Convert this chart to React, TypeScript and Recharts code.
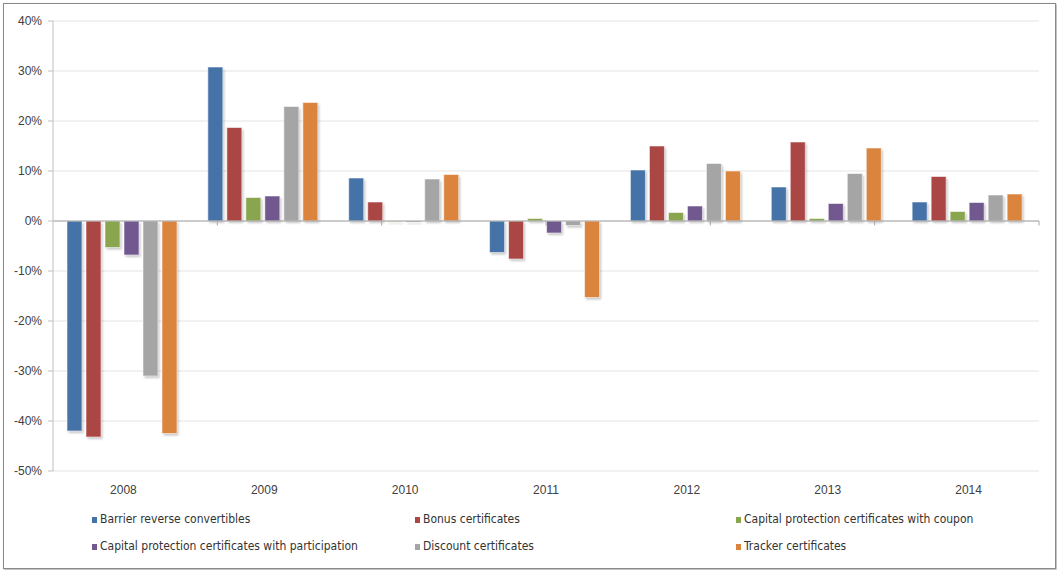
import { BarChart, Bar, XAxis, YAxis, CartesianGrid, ReferenceLine, Legend } from 'recharts'

const years = ['2008', '2009', '2010', '2011', '2012', '2013', '2014']

// annual performance, %
const barrierReverse = [-42, 30.8, 8.6, -6.3, 10.2, 6.8, 3.8]
const bonus = [-43.2, 18.7, 3.8, -7.6, 15, 15.8, 8.9]
const capCoupon = [-5.3, 4.7, -0.1, 0.5, 1.7, 0.5, 1.9]
const capParticipation = [-6.8, 5, -0.2, -2.4, 3, 3.5, 3.7]
const discount = [-31, 22.9, 8.4, -0.9, 11.5, 9.5, 5.2]
const tracker = [-42.5, 23.7, 9.3, -15.3, 10, 14.6, 5.4]

const yTicks = [-50, -40, -30, -20, -10, 0, 10, 20, 30, 40]

const SERIES = [
  { key: 'barrier', name: 'Barrier reverse convertibles', color: '#4572a7', values: barrierReverse },
  { key: 'bonus', name: 'Bonus certificates', color: '#aa4643', values: bonus },
  { key: 'coupon', name: 'Capital protection certificates with coupon', color: '#89a54e', values: capCoupon },
  { key: 'participation', name: 'Capital protection certificates with participation', color: '#71588f', values: capParticipation },
  { key: 'discount', name: 'Discount certificates', color: '#a5a5a5', values: discount },
  { key: 'tracker', name: 'Tracker certificates', color: '#db843d', values: tracker },
]

const data = years.map((year, i) => {
  const row: Record<string, string | number> = { year }
  SERIES.forEach(s => { row[s.key] = s.values[i] })
  return row
})

const boundaries = years.map((_, i) => i + 1)

const TICK_FONT = "'Liberation Sans', Arial, sans-serif"
const LEGEND_FONT = "'Liberation Sans Narrow', 'DejaVu Sans Condensed', sans-serif"

function ShadowBar(props: any) {
  const { x, y, width, height, fill } = props
  if (width == null || height == null || !width) return null
  const top = Math.min(y, y + height)
  const h = Math.max(Math.abs(height), 0.8)
  return (
    <g>
      <rect x={x + 1.5} y={top + 2} width={width} height={h} fill="#000" opacity={0.22} filter="url(#barShadow)" />
      <rect x={x} y={top} width={width} height={h} fill={fill} stroke="#ffffff" strokeOpacity={0.55} strokeWidth={1} />
    </g>
  )
}

function LegendBox() {
  return (
    <div
      style={{
        display: 'grid',
        gridTemplateColumns: '323px 321px auto',
        paddingLeft: 92,
        fontFamily: LEGEND_FONT,
        fontSize: 12,
        color: '#333',
        lineHeight: '27px',
      }}
    >
      {SERIES.map(s => (
        <div key={s.key} style={{ display: 'flex', alignItems: 'center', whiteSpace: 'nowrap' }}>
          <span style={{ width: 5, height: 6, background: s.color, marginRight: 3, display: 'inline-block' }} />
          <span>{s.name}</span>
        </div>
      ))}
    </div>
  )
}

export default function App() {
  return (
    <div style={{ position: 'absolute', left: 0, top: 0, width: 1057, height: 570, background: '#fff' }}>
      <div
        style={{
          position: 'absolute', left: 3, top: 3, width: 1053, height: 566,
          boxSizing: 'border-box', border: '1px solid #8a8a8a',
          boxShadow: '1px 1px 2px rgba(0,0,0,0.35)',
        }}
      />
      <div style={{ position: 'absolute', left: 0, top: 0 }}>
        <BarChart
          width={1057}
          height={570}
          data={data}
          margin={{ top: 21, right: 18, left: 0, bottom: 69 }}
          barCategoryGap={14}
          barGap={4}
        >
          <defs>
            <filter id="barShadow" x="-50%" y="-50%" width="200%" height="200%">
              <feGaussianBlur stdDeviation="1.2" />
            </filter>
          </defs>
          <CartesianGrid xAxisId="cat" vertical={false} stroke="#e4e4e4" />
          <XAxis
            xAxisId="cat"
            dataKey="year"
            axisLine={false}
            tickLine={false}
            tickSize={0}
            tickMargin={14}
            height={30}
            tick={{ fill: '#404040', fontSize: 12, fontFamily: TICK_FONT }}
          />
          <XAxis xAxisId="num" type="number" domain={[0, years.length]} allowDataOverflow hide />
          <YAxis
            width={53}
            domain={[-50, 40]}
            ticks={yTicks}
            interval={0}
            tickFormatter={(v: number) => `${v}%`}
            axisLine={{ stroke: '#bfbfbf' }}
            tickLine={{ stroke: '#bfbfbf' }}
            tickSize={5}
            tickMargin={6}
            tick={{ fill: '#404040', fontSize: 12, fontFamily: TICK_FONT }}
          />
          {SERIES.map(s => (
            <Bar
              key={s.key}
              xAxisId="cat"
              dataKey={s.key}
              name={s.name}
              fill={s.color}
              shape={<ShadowBar />}
              isAnimationActive={false}
            />
          ))}
          <ReferenceLine xAxisId="cat" y={0} stroke="#a6a6a6" />
          {boundaries.map(b => (
            <ReferenceLine
              key={b}
              xAxisId="num"
              segment={[{ x: b, y: 0 }, { x: b, y: -0.9 }]}
              stroke="#a6a6a6"
            />
          ))}
          <Legend
            layout="horizontal"
            verticalAlign="middle"
            align="center"
            wrapperStyle={{ left: 0, top: 506, width: 1057, position: 'absolute' }}
            content={() => <LegendBox />}
          />
        </BarChart>
      </div>
    </div>
  )
}
